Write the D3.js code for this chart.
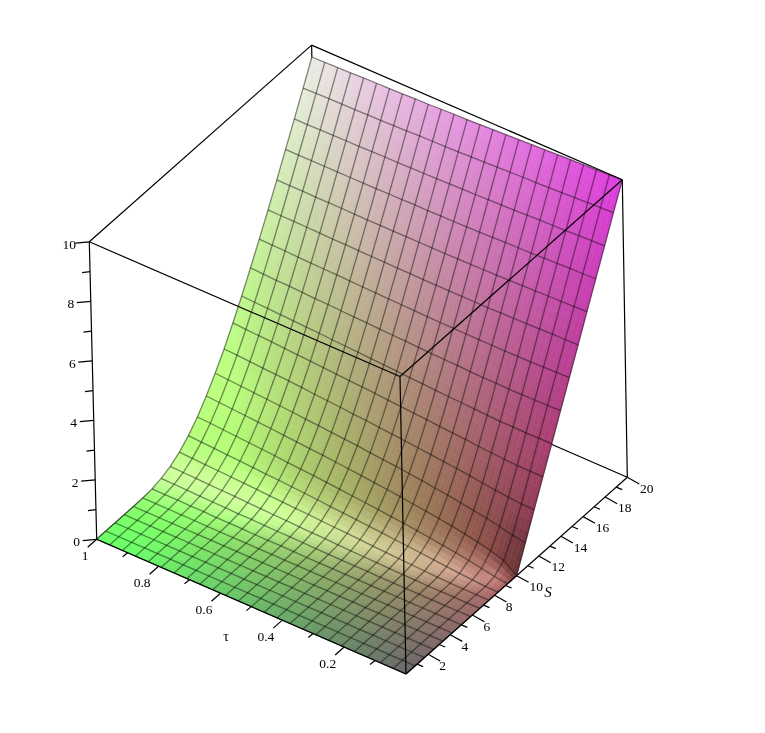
<!DOCTYPE html>
<html>
<head>
<meta charset="utf-8">
<title>surface</title>
<script src="https://cdn.jsdelivr.net/npm/d3@7"></script>
<style>
body { margin: 0; background: #fff; }
text { font-family: "Liberation Serif", serif; font-size: 13.5px; fill: #000; }
.box, .tick { stroke: #000; stroke-width: 1.2; fill: none; }
.mesh { stroke: #000; stroke-opacity: .45; stroke-width: 1.3; fill: none; }
</style>
</head>
<body>
<div id="chart"></div>
<script>
// Data //
var tauValues = [0, .0417, .0833, .125, .1667, .2083, .25, .2917, .3333, .375, .4167, .4583, .5,
  .5417, .5833, .625, .6667, .7083, .75, .7917, .8333, .875, .9167, .9583, 1];
var sValues = [0, .833, 1.667, 2.5, 3.333, 4.167, 5, 5.833, 6.667, 7.5, 8.333, 9.167, 10,
  10.833, 11.667, 12.5, 13.333, 14.167, 15, 15.833, 16.667, 17.5, 18.333, 19.167, 20];

// heights, one row per tauValues entry, one column per sValues entry
// estimated: edges, inner rows from a smooth fit to those edges
var heights = [
  [0,0,0,0,0,0,0,0,0,0,0,0,0,.83,1.67,2.5,3.33,4.17,5,5.83,6.67,7.5,8.33,9.17,10],
  [0,0,0,0,0,0,0,0,0,0,0,.06,.32,.9,1.67,2.5,3.33,4.16,4.99,5.82,6.65,7.48,8.32,9.15,9.98],
  [0,0,0,0,0,0,0,0,0,0,.03,.14,.46,1,1.71,2.5,3.32,4.15,4.98,5.81,6.64,7.47,8.3,9.13,9.96],
  [0,0,0,0,0,0,0,0,0,.01,.06,.22,.56,1.09,1.76,2.52,3.33,4.14,4.97,5.8,6.63,7.45,8.28,9.11,9.94],
  [0,0,0,0,0,0,0,0,0,.02,.1,.29,.65,1.16,1.81,2.55,3.33,4.14,4.96,5.79,6.61,7.44,8.26,9.09,9.92],
  [0,0,0,0,0,0,0,0,.01,.04,.14,.35,.72,1.23,1.87,2.58,3.35,4.15,4.96,5.78,6.6,7.42,8.25,9.07,9.9],
  [0,0,0,0,0,0,0,0,.01,.06,.18,.41,.79,1.3,1.92,2.62,3.37,4.15,4.96,5.77,6.59,7.41,8.23,9.05,9.88],
  [0,0,0,0,0,0,0,0,.02,.08,.22,.47,.85,1.35,1.96,2.65,3.39,4.16,4.96,5.76,6.58,7.4,8.21,9.04,9.86],
  [0,0,0,0,0,0,0,.01,.03,.1,.25,.52,.9,1.41,2.01,2.68,3.41,4.18,4.96,5.76,6.57,7.38,8.2,9.02,9.84],
  [0,0,0,0,0,0,0,.01,.04,.12,.29,.56,.96,1.46,2.05,2.72,3.43,4.19,4.97,5.76,6.56,7.37,8.19,9,9.82],
  [0,0,0,0,0,0,0,.01,.05,.15,.32,.61,1.01,1.51,2.09,2.75,3.46,4.2,4.97,5.76,6.56,7.36,8.17,8.98,9.8],
  [0,0,0,0,0,0,0,.02,.06,.17,.36,.65,1.05,1.55,2.13,2.78,3.48,4.22,4.98,5.76,6.55,7.35,8.16,8.97,9.78],
  [0,0,0,0,0,0,0,.02,.08,.19,.39,.69,1.1,1.59,2.17,2.81,3.51,4.24,4.99,5.76,6.55,7.35,8.15,8.95,9.76],
  [0,0,0,0,0,0,.01,.03,.09,.21,.42,.73,1.14,1.64,2.21,2.85,3.53,4.25,5,5.77,6.55,7.34,8.14,8.94,9.75],
  [0,0,0,0,0,0,.01,.04,.1,.24,.46,.77,1.18,1.67,2.24,2.88,3.55,4.27,5.01,5.77,6.55,7.34,8.13,8.93,9.73],
  [0,0,0,0,0,0,.01,.04,.12,.26,.49,.81,1.22,1.71,2.28,2.9,3.58,4.29,5.02,5.78,6.55,7.33,8.12,8.92,9.71],
  [0,0,0,0,0,0,.01,.05,.13,.28,.52,.84,1.25,1.75,2.31,2.93,3.6,4.3,5.03,5.78,6.55,7.33,8.11,8.9,9.7],
  [0,0,0,0,0,0,.02,.06,.15,.3,.55,.87,1.29,1.78,2.34,2.96,3.62,4.32,5.05,5.79,6.55,7.32,8.11,8.89,9.68],
  [0,0,0,0,0,0,.02,.06,.16,.33,.57,.91,1.32,1.82,2.38,2.99,3.65,4.34,5.06,5.8,6.55,7.32,8.1,8.88,9.67],
  [0,0,0,0,0,0,.02,.07,.18,.35,.6,.94,1.36,1.85,2.41,3.01,3.67,4.35,5.07,5.8,6.56,7.32,8.09,8.87,9.66],
  [0,0,0,0,0,.01,.03,.08,.19,.37,.63,.97,1.39,1.88,2.44,3.04,3.69,4.37,5.08,5.81,6.56,7.32,8.09,8.86,9.65],
  [0,0,0,0,0,.01,.03,.09,.2,.39,.65,1,1.42,1.91,2.46,3.07,3.71,4.39,5.09,5.82,6.56,7.32,8.08,8.86,9.63],
  [0,0,0,0,0,.01,.04,.1,.22,.41,.68,1.03,1.45,1.94,2.49,3.09,3.73,4.4,5.11,5.83,6.57,7.32,8.08,8.85,9.62],
  [0,0,0,0,0,.01,.04,.11,.23,.43,.7,1.06,1.48,1.97,2.52,3.11,3.75,4.42,5.12,5.83,6.57,7.32,8.07,8.84,9.61],
  [0,0,0,0,0,.01,.04,.12,.25,.45,.73,1.08,1.51,2,2.54,3.14,3.77,4.44,5.13,5.84,6.57,7.32,8.07,8.83,9.6]
];

var zMajor = [0, 2, 4, 6, 8, 10],
    zMinor = [1, 3, 5, 7, 9];
var tauMajor = [1, .8, .6, .4, .2],
    tauMinor = [.9, .7, .5, .3, .1];
var sMajor = [2, 4, 6, 8, 10, 12, 14, 16, 18, 20],
    sMinor = [1, 3, 5, 7, 9, 11, 13, 15, 17, 19];

// SVG Setup //
var width = 765, height = 733;
var svg = d3.select("#chart").append("svg")
  .attr("width", width)
  .attr("height", height)
  .style("display", "block");

// text sits on its own see-through layer, so it gets plain grey antialiasing
var textLayer = d3.select("#chart").append("svg")
  .attr("width", width)
  .attr("height", height)
  .style("position", "absolute")
  .style("left", 0)
  .style("top", 0)
  .style("will-change", "transform");

// the view is close to parallel, so each axis just adds its own offset to the origin corner
var origin = [406, 674];
var tauX = d3.scaleLinear().domain([0, 1]).range([0, -309.3]),
    tauY = d3.scaleLinear().domain([0, 1]).range([0, -134.7]),
    sX = d3.scaleLinear().domain([0, 20]).range([0, 221.3]),
    sY = d3.scaleLinear().domain([0, 20]).range([0, -196.7]),
    zY = d3.scaleLinear().domain([0, 10]).range([0, -297.5]);
var lean = d3.scaleLinear().domain([0, 1]).range([-6, -7.4]);

function project(tau, s, z) {
  var zx = (lean(tau) + s / 20) * z / 10;
  return [origin[0] + tauX(tau) + sX(s) + zx, origin[1] + tauY(tau) + sY(s) + zY(z)];
}

var tauN = tauValues.length, sN = sValues.length;

// vertex colour: red follows S, green follows tau, blue follows height, then light on top
var half = [0, -.29, .957];
function shade(i, j) {
  var i0 = Math.max(i - 1, 0), i1 = Math.min(i + 1, tauN - 1),
      j0 = Math.max(j - 1, 0), j1 = Math.min(j + 1, sN - 1);
  var u = tauValues[i], v = sValues[j] / 20, w = heights[i][j] / 10;
  var wu = (heights[i1][j] - heights[i0][j]) / 10 / (tauValues[i1] - tauValues[i0]);
  var wv = (heights[i][j1] - heights[i][j0]) / 10 / ((sValues[j1] - sValues[j0]) / 20);
  var len = Math.sqrt(wu * wu + wv * wv + 1);
  var n = [-wu / len, -wv / len, 1 / len];
  var nh = Math.max(0, n[0] * half[0] + n[1] * half[1] + n[2] * half[2]);
  // the shadowed pocket just past the kink at S = 10
  var pocket = Math.exp(-Math.pow(u / .06, 2)) * Math.exp(-Math.pow((v - .52) / .025, 2));
  var foot = Math.exp(-Math.pow(u / .2, 2)) * Math.exp(-Math.pow((v - .55) / .07, 2));
  var bump = Math.max(0, 40 * u - 6) * Math.exp(-Math.pow((wv - 1.1) / .5, 2));
  var spec = 62 + 90 * Math.pow(nh, 18) + bump - 20 * pocket;
  var d = .63 + .04 * u - .25 * pocket - .08 * foot;
  return [v * d * 255 + spec, u * d * 255 + spec, w * d * 255 + spec];
}

var vertexColour = tauValues.map(function(t, i) {
  return sValues.map(function(s, j) { return shade(i, j); });
});

function rgb(c) {
  return "rgb(" + c.map(function(x) { return Math.round(Math.min(255, x)); }).join(",") + ")";
}
function mix(a, b, t) {
  return a.map(function(x, k) { return x + (b[k] - x) * t; });
}

// Box, back edges first so that the surface hides them //
function edge(a, b) {
  svg.append("line").attr("class", "box")
    .attr("x1", a[0]).attr("y1", a[1])
    .attr("x2", b[0]).attr("y2", b[1]);
}
var A = project(1, 0, 0), B = project(0, 0, 0), C = project(0, 20, 0), D = project(1, 20, 0),
    At = project(1, 0, 10), Bt = project(0, 0, 10), Ct = project(0, 20, 10), Dt = project(1, 20, 10);

edge(D, A);
edge(D, C);
edge(D, Dt);

// Surface, split finer than the mesh so the colour runs smoothly //
var steps = 3;
var cells = [];
for (var i = tauN - 2; i >= 0; i--) {
  for (var j = sN - 2; j >= 0; j--) {
    for (var a = 0; a < steps; a++) {
      for (var b = 0; b < steps; b++) {
        cells.push({i: i, j: j, a: a, b: b});
      }
    }
  }
}

function meshPoint(i, j, a, b) {
  var ta = a / steps, tb = b / steps;
  var z0 = heights[i][j] + (heights[i][j + 1] - heights[i][j]) * tb,
      z1 = heights[i + 1][j] + (heights[i + 1][j + 1] - heights[i + 1][j]) * tb;
  return project(tauValues[i] + (tauValues[i + 1] - tauValues[i]) * ta,
                 sValues[j] + (sValues[j + 1] - sValues[j]) * tb,
                 z0 + (z1 - z0) * ta);
}
function cellColour(d) {
  var ta = (d.a + .5) / steps, tb = (d.b + .5) / steps;
  var c0 = mix(vertexColour[d.i][d.j], vertexColour[d.i][d.j + 1], tb),
      c1 = mix(vertexColour[d.i + 1][d.j], vertexColour[d.i + 1][d.j + 1], tb);
  return rgb(mix(c0, c1, ta));
}

svg.append("g").selectAll("path")
  .data(cells)
  .enter().append("path")
  .attr("d", function(d) {
    return "M" + [meshPoint(d.i, d.j, d.a, d.b),
                  meshPoint(d.i, d.j, d.a, d.b + 1),
                  meshPoint(d.i, d.j, d.a + 1, d.b + 1),
                  meshPoint(d.i, d.j, d.a + 1, d.b)].join("L") + "Z";
  })
  .attr("fill", cellColour)
  .attr("stroke", cellColour)
  .attr("stroke-width", .6);

// Mesh lines //
var meshLine = d3.line();
var mesh = svg.append("g");
tauValues.forEach(function(t, i) {
  mesh.append("path").attr("class", "mesh")
    .attr("d", meshLine(sValues.map(function(s, j) { return project(t, s, heights[i][j]); })));
});
sValues.forEach(function(s, j) {
  mesh.append("path").attr("class", "mesh")
    .attr("d", meshLine(tauValues.map(function(t, i) { return project(t, s, heights[i][j]); })));
});

// Box, the edges in front //
edge(A, B);
edge(B, C);
edge(A, At);
edge(B, Bt);
edge(C, Ct);
edge(At, Bt);
edge(Bt, Ct);
edge(Ct, Dt);
edge(Dt, At);

// Ticks //
function ticks(list, place, dx, dy) {
  svg.append("g").selectAll("line")
    .data(list)
    .enter().append("line")
    .attr("class", "tick")
    .attr("x1", function(d) { return place(d)[0]; })
    .attr("y1", function(d) { return place(d)[1]; })
    .attr("x2", function(d) { return place(d)[0] + dx; })
    .attr("y2", function(d) { return place(d)[1] + dy; });
}
function labels(list, place, dx, dy) {
  textLayer.append("g").selectAll("text")
    .data(list)
    .enter().append("text")
    .attr("x", function(d) { return place(d)[0] + dx; })
    .attr("y", function(d) { return place(d)[1] + dy; })
    .attr("text-anchor", "middle")
    .text(function(d) { return d; });
}
var onZ = function(d) { return project(1, 0, d); },
    onTau = function(d) { return project(d, 0, 0); },
    onS = function(d) { return project(0, d, 0); };

ticks(zMajor, onZ, -14, 1.3);
ticks(zMinor, onZ, -8, 1);
ticks(tauMajor, onTau, -9, 8);
ticks(tauMinor, onTau, -5, 4);
ticks(sMajor, onS, 12, 6.7);
ticks(sMinor, onS, 6, 2.5);

labels(zMajor, onZ, -20, 7);
labels(tauMajor.slice(1), onTau, -16.4, 21);
labels(tauMajor.slice(0, 1), onTau, -11.7, 21);
labels(sMajor.slice(0, 4), onS, 14.6, 16);
labels(sMajor.slice(4), onS, 19.5, 15.5);

// Axis titles //
textLayer.append("text").attr("x", 226).attr("y", 641).attr("text-anchor", "middle")
  .style("font-size", "14px").text("τ");
textLayer.append("text").attr("x", 548).attr("y", 597).attr("text-anchor", "middle")
  .style("font-style", "italic").style("font-size", "15px").text("S");
</script>
</body>
</html>
